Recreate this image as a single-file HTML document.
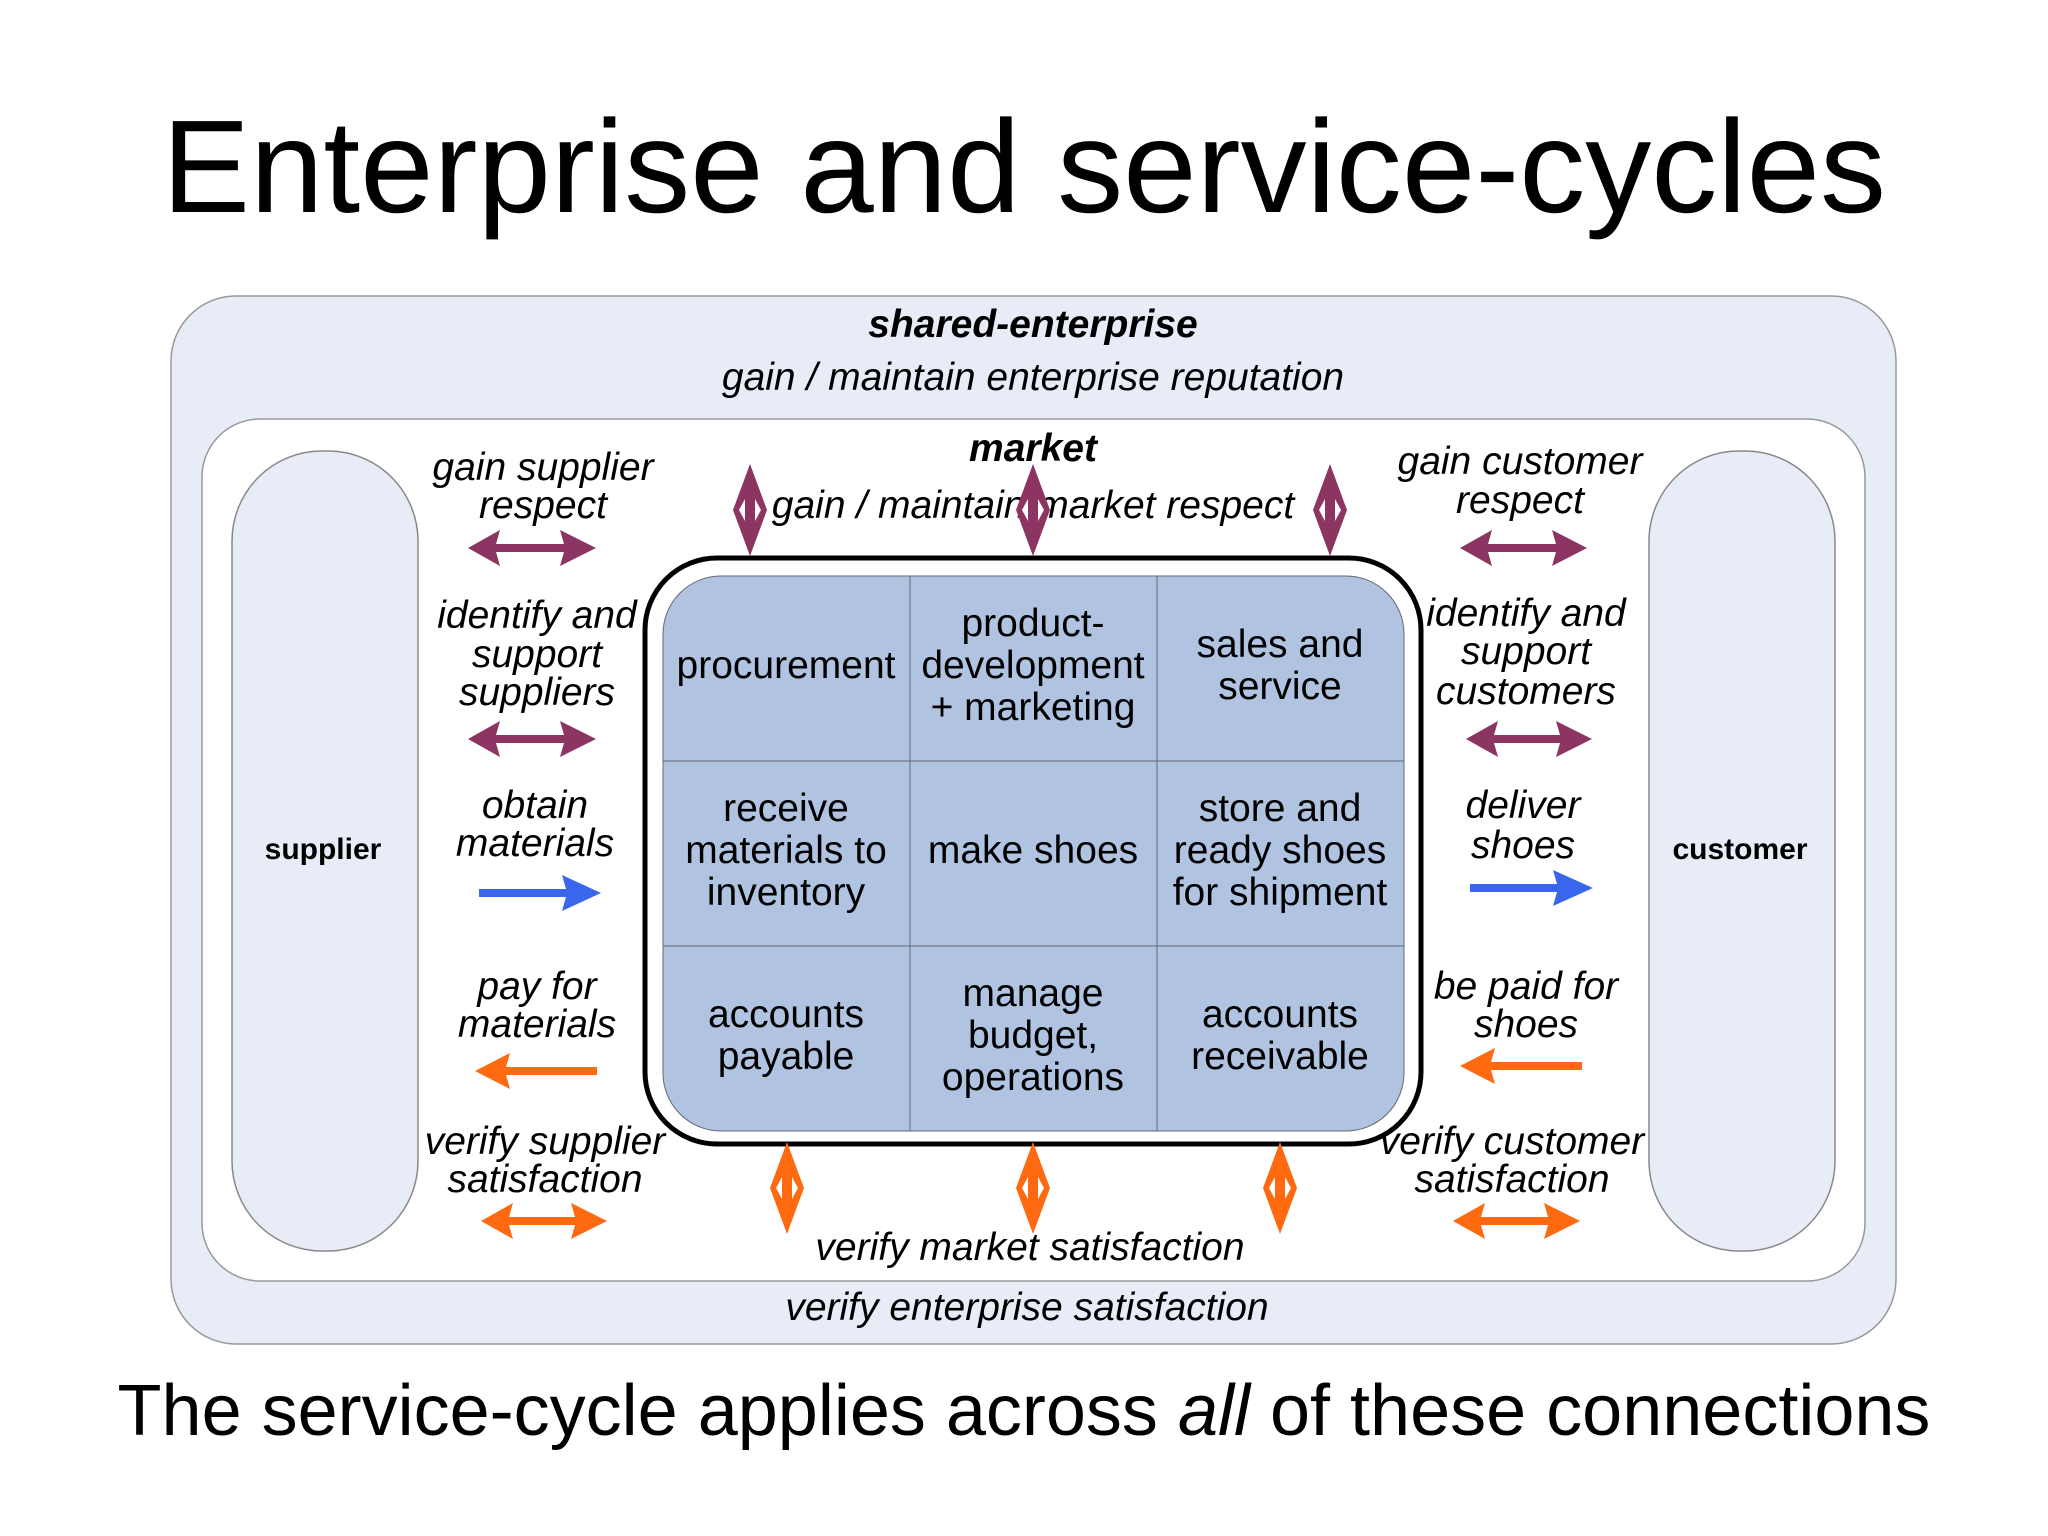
<!DOCTYPE html>
<html><head><meta charset="utf-8"><style>
html,body{margin:0;padding:0;background:#fff}
svg{display:block}
text{font-family:"Liberation Sans",Arial,sans-serif;fill:#000}
.i{font-style:italic;font-size:39px}
.g{font-size:39px}
</style></head><body>
<svg width="2048" height="1536" viewBox="0 0 2048 1536" xmlns="http://www.w3.org/2000/svg">
<defs>
<g id="vp">
 <polygon points="0,-46 17,0 0,46 -17,0" />
 <polygon points="-11,0 -5,-11 -5,11" fill="#fff"/>
 <polygon points="11,0 5,-11 5,11" fill="#fff"/>
</g>
</defs>
<text x="1024" y="212" text-anchor="middle" font-size="132">Enterprise and service-cycles</text>
<rect x="171" y="296" width="1725" height="1048" rx="65" fill="#e8ecf7" stroke="#999" stroke-width="1.5"/>
<rect x="202" y="419" width="1663" height="862" rx="58" fill="#fff" stroke="#999" stroke-width="1.5"/>
<rect x="232" y="451" width="186" height="800" rx="90" fill="#e8ecf7" stroke="#888" stroke-width="1.5"/>
<rect x="1649" y="451" width="186" height="800" rx="90" fill="#e8ecf7" stroke="#888" stroke-width="1.5"/>
<text x="323" y="859" text-anchor="middle" font-size="30" font-weight="bold">supplier</text>
<text x="1740" y="859" text-anchor="middle" font-size="30" font-weight="bold">customer</text>
<text x="1033" y="337" text-anchor="middle" font-size="39" font-weight="bold" font-style="italic">shared-enterprise</text>
<text x="1033" y="390" text-anchor="middle" class="i">gain / maintain enterprise reputation</text>
<text x="1033" y="461" text-anchor="middle" font-size="39" font-weight="bold" font-style="italic">market</text>
<text x="1033" y="518" text-anchor="middle" class="i">gain / maintain   market respect</text>
<text x="1030" y="1260" text-anchor="middle" class="i">verify market satisfaction</text>
<text x="1027" y="1320" text-anchor="middle" class="i">verify enterprise satisfaction</text>
<rect x="645" y="558" width="776" height="586" rx="72" fill="#fff" stroke="#000" stroke-width="5"/>
<rect x="663" y="576" width="741" height="555" rx="58" fill="#b0c4e2" stroke="#667" stroke-width="1"/>
<g stroke="#667" stroke-width="1"><line x1="910" y1="576" x2="910" y2="1131"/><line x1="1157" y1="576" x2="1157" y2="1131"/><line x1="663" y1="761" x2="1404" y2="761"/><line x1="663" y1="946" x2="1404" y2="946"/></g>
<g text-anchor="middle">
<text x="786" y="678" class="g">procurement</text>
<text x="1033" y="636" class="g">product-</text><text x="1033" y="678" class="g">development</text><text x="1033" y="720" class="g">+ marketing</text>
<text x="1280" y="657" class="g">sales and</text><text x="1280" y="699" class="g">service</text>
<text x="786" y="821" class="g">receive</text><text x="786" y="863" class="g">materials to</text><text x="786" y="905" class="g">inventory</text>
<text x="1033" y="863" class="g">make shoes</text>
<text x="1280" y="821" class="g">store and</text><text x="1280" y="863" class="g">ready shoes</text><text x="1280" y="905" class="g">for shipment</text>
<text x="786" y="1027" class="g">accounts</text><text x="786" y="1069" class="g">payable</text>
<text x="1033" y="1006" class="g">manage</text><text x="1033" y="1048" class="g">budget,</text><text x="1033" y="1090" class="g">operations</text>
<text x="1280" y="1027" class="g">accounts</text><text x="1280" y="1069" class="g">receivable</text>
</g>
<g text-anchor="middle">
<text x="543" y="480" class="i">gain supplier</text><text x="543" y="518" class="i">respect</text>
<text x="537" y="628" class="i">identify and</text><text x="537" y="667" class="i">support</text><text x="537" y="705" class="i">suppliers</text>
<text x="535" y="818" class="i">obtain</text><text x="535" y="856" class="i">materials</text>
<text x="537" y="999" class="i">pay for</text><text x="537" y="1037" class="i">materials</text>
<text x="545" y="1154" class="i">verify supplier</text><text x="545" y="1192" class="i">satisfaction</text>
<text x="1520" y="474" class="i">gain customer</text><text x="1520" y="513" class="i">respect</text>
<text x="1526" y="626" class="i">identify and</text><text x="1526" y="664" class="i">support</text><text x="1526" y="704" class="i">customers</text>
<text x="1523" y="818" class="i">deliver</text><text x="1523" y="858" class="i">shoes</text>
<text x="1526" y="999" class="i">be paid for</text><text x="1526" y="1037" class="i">shoes</text>
<text x="1512" y="1154" class="i">verify customer</text><text x="1512" y="1192" class="i">satisfaction</text>
</g>
<g fill="#8c3462">
<polygon points="468,548 500,530 496,544 564,544 560,530 596,548 560,566 564,552 496,552 500,566"/>
<polygon points="468,739 500,721 496,735 564,735 560,721 596,739 560,757 564,743 496,743 500,757"/>
<polygon points="1460,548 1492,530 1488,544 1556,544 1552,530 1587,548 1552,566 1556,552 1488,552 1492,566"/>
<polygon points="1466,739 1498,721 1494,735 1560,735 1556,721 1592,739 1556,757 1560,743 1494,743 1498,757"/>
</g>
<g fill="#ff6a10">
<polygon points="481,1221 513,1203 509,1217 575,1217 571,1203 607,1221 571,1239 575,1225 509,1225 513,1239"/>
<polygon points="1453,1221 1485,1203 1481,1217 1548,1217 1544,1203 1580,1221 1544,1239 1548,1225 1481,1225 1485,1239"/>
<polygon points="475,1071 510,1053 506,1067 597,1067 597,1075 506,1075 510,1089"/>
<polygon points="1460,1066 1495,1048 1491,1062 1582,1062 1582,1070 1491,1070 1495,1084"/>
</g>
<g fill="#3a66ee">
<polygon points="479,889 566,889 562,875 601,893 562,911 566,897 479,897"/>
<polygon points="1470,884 1557,884 1553,870 1593,888 1553,906 1557,892 1470,892"/>
</g>
<g fill="#8c3462">
<use href="#vp" x="750" y="510"/><use href="#vp" x="1033" y="510"/><use href="#vp" x="1330" y="510"/>
</g>
<g fill="#ff6a10">
<use href="#vp" x="787" y="1188"/><use href="#vp" x="1033" y="1188"/><use href="#vp" x="1280" y="1188"/>
</g>
<text x="1024" y="1435" text-anchor="middle" font-size="72">The service-cycle applies across <tspan font-style="italic">all</tspan> of these connections</text>
</svg>
</body></html>
